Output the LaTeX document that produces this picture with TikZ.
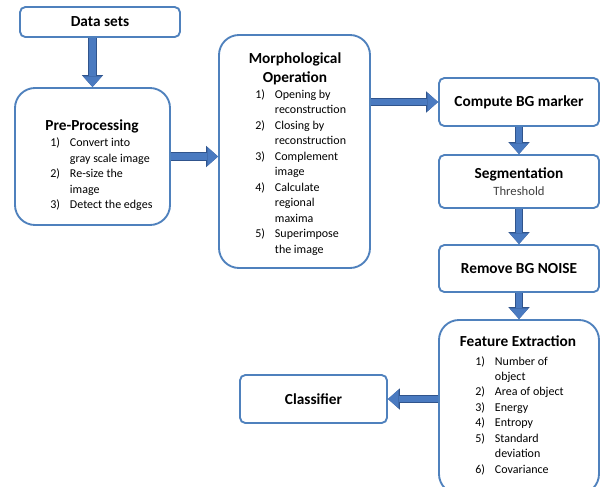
\documentclass[tikz,border=0pt]{standalone}
\usepackage{fontspec}
\setmainfont{Carlito}
\usetikzlibrary{arrows.meta,positioning}
\definecolor{boxblue}{RGB}{79,129,189}
\definecolor{arrowblue}{RGB}{74,122,192}
\definecolor{arrowedge}{RGB}{48,84,140}
\definecolor{textgray}{RGB}{64,64,64}
\newcommand{\titlefont}{\fontsize{11.5}{14}\selectfont\bfseries}
\newcommand{\listfont}{\fontsize{9}{11.6}\selectfont}

\begin{document}
\begin{tikzpicture}[
    x=0.75pt, y=-0.75pt,
    box/.style={rectangle, draw=boxblue, line width=1.4pt, fill=white, rounded corners=4pt,
                minimum width=120pt, minimum height=36pt, align=center, font=\titlefont, inner sep=0pt},
    bigbox/.style={box, rounded corners=15pt},
    heading/.style={font=\titlefont, inner sep=0pt, anchor=base, align=center},
    steps/.style={font=\listfont, inner sep=0pt, anchor=base west},
    arrow/.style={line width=5pt, arrowblue, -{Triangle[width=14pt,length=8pt,line width=0pt]},
                  preaction={draw=arrowedge, line width=6.4pt, -{Triangle[width=16pt,length=9pt,line width=0pt]}}}
]
\useasboundingbox (0,0) rectangle (600,486);
\node[box, minimum height=22.5pt] (data) at (100,22) {Data sets};
\node[bigbox, minimum width=116.25pt, minimum height=102.75pt] (pre) at (92.5,156.5) {};
\node[bigbox, minimum width=113.25pt, minimum height=174.75pt] (morph) at (294.5,151.5) {};
\node[box] (bgm) at (519,102) {Compute BG marker};
\node[box, minimum height=39.75pt] (seg) at (519,181.5) {Segmentation\\[-1pt]{\normalfont\fontsize{9.5}{11}\selectfont\color{textgray}Threshold}};
\node[box, minimum height=35.25pt] (noise) at (519,268.5) {Remove BG NOISE};
\node[bigbox, minimum height=130.5pt] (feat) at (519,407) {};
\node[box, minimum width=110.25pt] (cls) at (313.5,399) {Classifier};

\node[heading] (pretitle) at (92,130.5) {Pre-Processing};
\node[steps] (prelist) at (50,146.7) {\begin{tabular}[t]{@{}r@{\hspace{7.5pt}}l@{}}
1) & Convert into\\ & gray scale image\\ 2) & Re-size the\\ & image\\ 3) & Detect the edges
\end{tabular}};
\node[heading] (morphtitle) at (295,82) {Morphological\\Operation};
\node[steps] (morphlist) at (255,98.5) {\begin{tabular}[t]{@{}r@{\hspace{7.5pt}}l@{}}
1) & Opening by\\ & reconstruction\\ 2) & Closing by\\ & reconstruction\\ 3) & Complement\\ & image\\
4) & Calculate\\ & regional\\ & maxima\\ 5) & Superimpose\\ & the image
\end{tabular}};
\node[heading] (feattitle) at (518,346.5) {Feature Extraction};
\node[steps] (featlist) at (475,365) {\begin{tabular}[t]{@{}r@{\hspace{7.5pt}}l@{}}
1) & Number of\\ & object\\ 2) & Area of object\\ 3) & Energy\\ 4) & Entropy\\ 5) & Standard\\ & deviation\\ 6) & Covariance
\end{tabular}};

\draw[arrow] (data.south -| pre.north) -- (pre.north);
\draw[arrow] (pre.east) -- (morph.west |- pre.east);
\draw[arrow] (morph.east |- bgm.west) -- (bgm.west);
\draw[arrow] (bgm.south) -- (seg.north);
\draw[arrow] (seg.south) -- (noise.north);
\draw[arrow] (noise.south) -- (feat.north);
\draw[arrow] (feat.west |- cls.east) -- (cls.east);
\end{tikzpicture}
\end{document}
